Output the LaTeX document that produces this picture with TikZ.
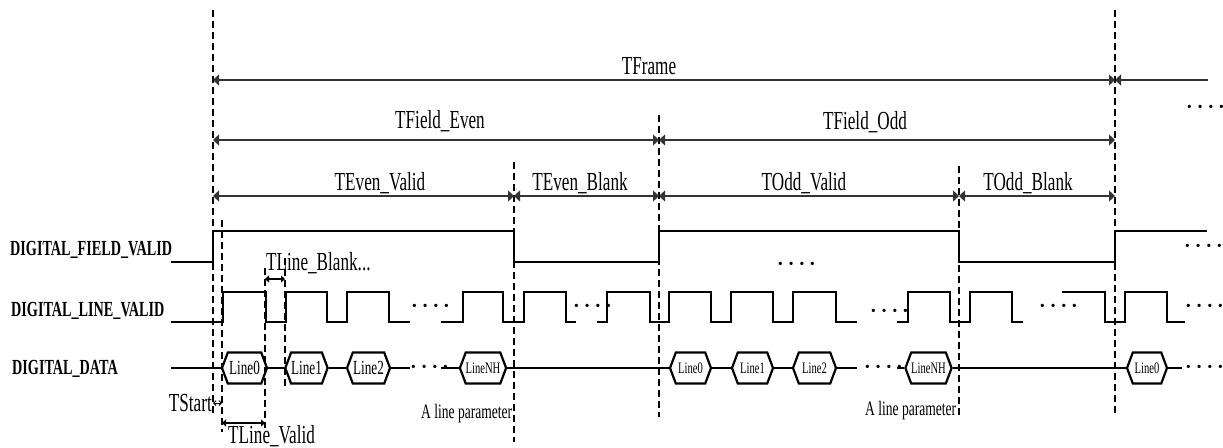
\documentclass[tikz,border=0pt]{standalone}
\usepackage{fontspec}
\setmainfont{Liberation Serif}[FakeStretch=0.66]
\newfontfamily\dotfont{Liberation Serif}
\usetikzlibrary{arrows.meta,shapes.symbols}
\newcommand{\fourdots}{·\kern4pt·\kern4pt·\kern4pt·}
\begin{document}
\begin{tikzpicture}[x=1pt,y=-1pt,
  vdash/.style={dash pattern=on 7pt off 4pt, line width=1.3pt},
  sig/.style={line width=2.6pt},
  dim/.style={line width=1.1pt, draw=black!80, {Triangle[length=6pt,width=11pt]}-{Triangle[length=6pt,width=11pt]}},
  dimr/.style={line width=1.1pt, draw=black!80, {Triangle[length=6pt,width=11pt]}-},
  smalldim/.style={line width=1.1pt, {Triangle[length=4pt,width=7pt]}-{Triangle[length=4pt,width=7pt]}},
  lab/.style={font=\fontsize{26}{30}\selectfont, anchor=base, inner sep=0},
  labw/.style={lab, anchor=base west},
  siglab/.style={font=\bfseries\fontsize{21.5}{26}\selectfont, anchor=base west, inner sep=0},
  hexa/.style={draw, line width=2.2pt, shape=signal, signal to=east and west, signal pointer angle=139, minimum height=31pt, inner sep=0, font=\fontsize{20}{22}\selectfont},
  hexs/.style={hexa, font=\fontsize{16}{18}\selectfont},
  dots/.style={font=\dotfont\bfseries\fontsize{20}{20}\selectfont, anchor=base west, inner sep=0},
]
\useasboundingbox (0,0) rectangle (1223,447);

% dashed vertical markers
\coordinate (v0t) at (213,10);   \coordinate (v0b) at (213,415);
\coordinate (v1t) at (222,220);  \coordinate (v1b) at (222,432);
\coordinate (v2t) at (265,268);  \coordinate (v2b) at (265,428);
\coordinate (v3t) at (285,258);  \coordinate (v3b) at (285,390);
\coordinate (v4t) at (514,162);  \coordinate (v4b) at (514,442);
\coordinate (v5t) at (659,115);  \coordinate (v5b) at (659,417);
\coordinate (v6t) at (959,166);  \coordinate (v6b) at (959,418);
\coordinate (v7t) at (1115,10);  \coordinate (v7b) at (1115,413);
\foreach \i in {0,...,7} \draw[vdash] (v\i t) -- (v\i b);

% dimension arrows
\coordinate (f0) at (213,80); \coordinate (f1) at (1115,80); \coordinate (f2) at (1208,80);
\coordinate (g0) at (213,140); \coordinate (g1) at (659,140); \coordinate (g2) at (1115,140);
\coordinate (h0) at (213,196); \coordinate (h1) at (514,196); \coordinate (h2) at (659,196);
\coordinate (h3) at (959,196); \coordinate (h4) at (1115,196);
\draw[dim] (f0) -- (f1);
\draw[dimr] (f1) -- (f2);
\draw[dim] (g0) -- (g1);
\draw[dim] (g1) -- (g2);
\draw[dim] (h0) -- (h1);
\draw[dim] (h1) -- (h2);
\draw[dim] (h2) -- (h3);
\draw[dim] (h3) -- (h4);

\node[lab] (tframe) at (649,74) {TFrame};
\node[lab] (tfe) at (440,128) {TField\_Even};
\node[lab] (tfo) at (865,129) {TField\_Odd};
\node[lab] (tev) at (380,190) {TEven\_Valid};
\node[lab] (teb) at (580,190) {TEven\_Blank};
\node[lab] (tov) at (804,190) {TOdd\_Valid};
\node[lab] (tob) at (1028,190) {TOdd\_Blank};
\node[dots] (dtop) at (1186,113) {\fourdots};

% signal names
\node[siglab] (nfv) at (10,255) {DIGITAL\_FIELD\_VALID};
\node[siglab] (nlv) at (11,316) {DIGITAL\_LINE\_VALID};
\node[siglab] (ndd) at (12,374) {DIGITAL\_DATA};

% field valid
\draw[sig] (171,262) -- (213,262) -- (213,231) -- (514,231) -- (514,262) -- (659,262)
  -- (659,231) -- (959,231) -- (959,262) -- (1115,262) -- (1115,231) -- (1207,231);
\node[dots] (dfv1) at (777,270) {\fourdots};
\node[dots] (dfv2) at (1184,252) {\fourdots};

% line valid
\draw[sig] (171,322) -- (223,322) -- (223,292) -- (266,292) -- (266,322) -- (286,322) -- (286,292)
  -- (327,292) -- (327,322) -- (347,322) -- (347,292) -- (389,292) -- (389,322) -- (410,322);
\draw[sig] (441,322) -- (463,322) -- (463,292) -- (503,292) -- (503,322) -- (524,322) -- (524,292)
  -- (566,292) -- (566,322) -- (576,322);
\draw[sig] (597,322) -- (607,322) -- (607,292) -- (650,292) -- (650,322) -- (669,322) -- (669,292)
  -- (711,292) -- (711,322) -- (731,322) -- (731,292) -- (773,292) -- (773,322) -- (793,322)
  -- (793,292) -- (836,292) -- (836,322) -- (857,322);
\draw[sig] (897,322) -- (908,322) -- (908,292) -- (950,292) -- (950,322) -- (970,322) -- (970,292)
  -- (1012,292) -- (1012,322) -- (1023,322);
\draw[sig] (1062,292) -- (1105,292) -- (1105,322) -- (1125,322) -- (1125,292) -- (1167,292)
  -- (1167,322) -- (1185,322);
\node[dots] (dlv1) at (411,312) {\fourdots};
\node[dots] (dlv2) at (573,312) {\fourdots};
\node[dots] (dlv3) at (870,317) {\fourdots};
\node[dots] (dlv4) at (1039,312) {\fourdots};
\node[dots] (dlv5) at (1185,312) {\fourdots};

% data
\node[hexa, minimum width=45pt] (d0) at (244.5,368) {Line0};
\node[hexa, minimum width=41pt] (d1) at (306.5,368) {Line1};
\node[hexa, minimum width=43pt] (d2) at (368.5,368) {Line2};
\node[hexs, minimum width=42pt] (d3) at (483,368) {LineNH};
\node[hexs, minimum width=41pt] (d4) at (690.5,368) {Line0};
\node[hexs, minimum width=41pt] (d5) at (752.5,368) {Line1};
\node[hexs, minimum width=43pt] (d6) at (814.5,368) {Line2};
\node[hexs, minimum width=43pt] (d7) at (928.5,368) {LineNH};
\node[hexs, minimum width=40pt] (d8) at (1147,368) {Line0};
\coordinate (ds) at (171,368);
\coordinate (e1) at (410,368); \coordinate (s1) at (441,368);
\coordinate (e2) at (857,368); \coordinate (s2) at (897,368);
\coordinate (e3) at (1182,368);
\draw[sig] (ds) -- (d0.west);
\draw[sig] (d0.east) -- (d1.west);
\draw[sig] (d1.east) -- (d2.west);
\draw[sig] (d2.east) -- (e1);
\draw[sig] (s1) -- (d3.west);
\draw[sig] (d3.east) -- (d4.west);
\draw[sig] (d4.east) -- (d5.west);
\draw[sig] (d5.east) -- (d6.west);
\draw[sig] (d6.east) -- (e2);
\draw[sig] (s2) -- (d7.west);
\draw[sig] (d7.east) -- (d8.west);
\draw[sig] (d8.east) -- (e3);
\node[dots] (ddd1) at (410,373) {\fourdots};
\node[dots] (ddd2) at (864,373) {\fourdots};
\node[dots] (ddd3) at (1185,373) {\fourdots};

% line timing annotations
\coordinate (lb0) at (265,279); \coordinate (lb1) at (285,279);
\draw[smalldim] (lb0) -- (lb1);
\node[labw] (tlb) at (266,270) {TLine\_Blank...};
\coordinate (ts0) at (213,403); \coordinate (ts1) at (222,403);
\draw[line width=0.9pt, {Straight Barb[length=2.5pt,width=5pt]}-{Straight Barb[length=2.5pt,width=5pt]}] (ts0) -- (ts1);
\node[lab, anchor=base east] (tst) at (212,411) {TStart};
\coordinate (lv0) at (222,423); \coordinate (lv1) at (265,423);
\draw[smalldim] (lv0) -- (lv1);
\node[labw] (tlv) at (228,443) {TLine\_Valid};
\node[labw, font=\fontsize{20.5}{24}\selectfont] (alp1) at (421,418) {A line parameter};
\node[labw, font=\fontsize{20.5}{24}\selectfont] (alp2) at (865,415) {A line parameter};
\end{tikzpicture}
\end{document}
